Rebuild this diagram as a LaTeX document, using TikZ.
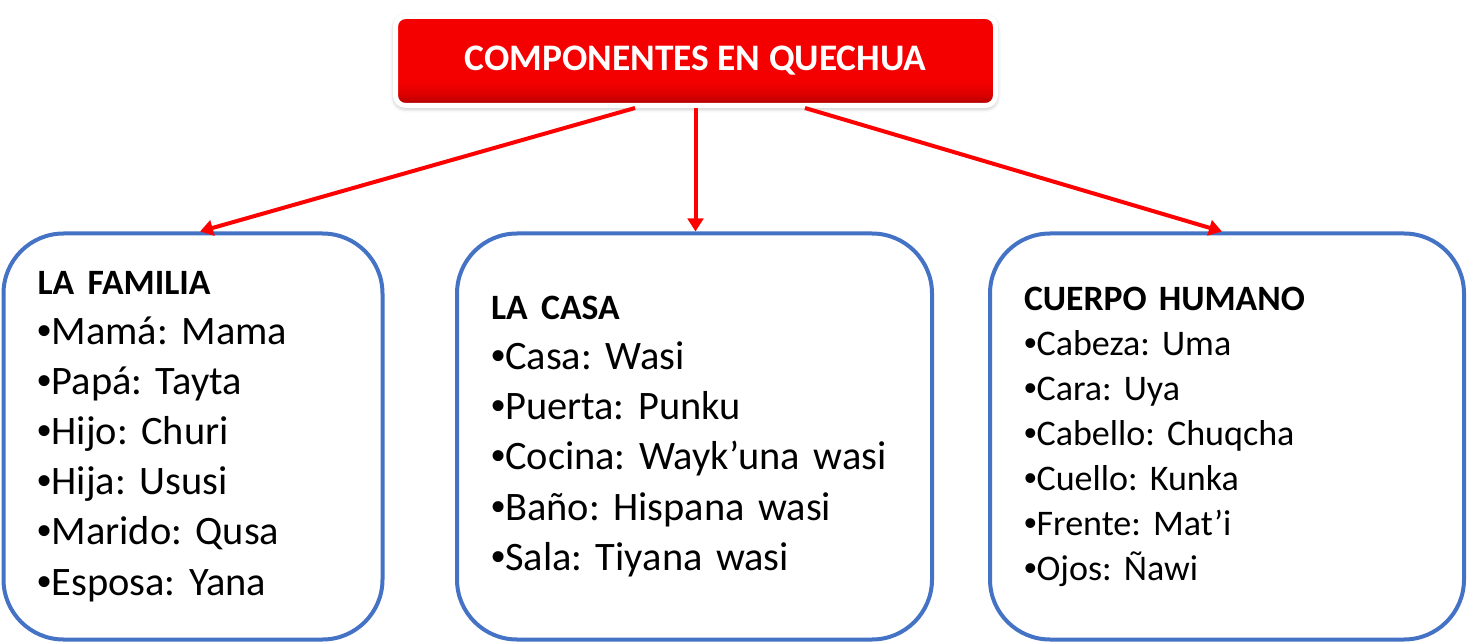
\documentclass[tikz,border=0pt]{standalone}
\usepackage{fontspec}
\setmainfont{Carlito}
\newfontfamily\vinetafont{Liberation Sans}
\usetikzlibrary{arrows.meta,shadows.blur}
\definecolor{azulborde}{HTML}{4472C4}
\definecolor{rojoflecha}{HTML}{FF0000}
\definecolor{rojoclaro}{HTML}{F40000}
\definecolor{rojomedio}{HTML}{DC0000}
\definecolor{rojooscuro}{HTML}{A80000}
\pgfdeclareverticalshading{rojoboton}{100bp}{color(0bp)=(rojooscuro); color(25bp)=(rojooscuro);
    color(31bp)=(rojomedio); color(38bp)=(rojoclaro); color(100bp)=(rojoclaro)}
\tikzset{
    encabezado/.style={
        draw=white, line width=0.1cm, rounded corners=0.2cm, shading=rojoboton,
        minimum width=12cm, minimum height=1.78cm,
        text=white, font=\bfseries\fontsize{21.3}{26}\selectfont,
        blur shadow={shadow xshift=0pt, shadow yshift=-1pt, shadow blur radius=3pt}
    },
    tema/.style={
        draw=azulborde, line width=0.08cm, rounded corners=1.2cm,
        minimum height=8.12cm, inner xsep=0.68cm, align=left
    },
    flecha/.style={draw=rojoflecha, line width=0.08cm, -{Triangle[length=0.26cm, width=0.31cm]}}
}
\newcommand{\vineta}{{\vinetafont •}}
\newcommand{\tituloTema}[1]{{\bfseries\fontsize{20.3}{28.5}\selectfont #1}}
\begin{document}
\frenchspacing
\begin{tikzpicture}
    \useasboundingbox (0,0) rectangle (29.36,-12.88);
    % titulo principal
    \node[encabezado] (comp) at (13.91,-1.22) {COMPONENTES EN QUECHUA};
    % los tres temas
    \node[tema, text width=6.22cm, font=\fontsize{23}{28.5}\selectfont] (familia) at (3.86,-8.73) {
        \tituloTema{LA FAMILIA}\\
        \vineta Mamá: Mama\\
        \vineta Papá: Tayta\\
        \vineta Hijo: Churi\\
        \vineta Hija: Ususi\\
        \vineta Marido: Qusa\\
        \vineta Esposa: Yana};
    \node[tema, text width=8.14cm, font=\fontsize{23}{28.5}\selectfont] (casa) at (13.89,-8.73) {
        \tituloTema{LA CASA}\\
        \vineta Casa: Wasi\\
        \vineta Puerta: Punku\\
        \vineta Cocina: Wayk’una wasi\\
        \vineta Baño: Hispana wasi\\
        \vineta Sala: Tiyana wasi};
    \node[tema, text width=8.12cm, font=\fontsize{20.5}{25.6}\selectfont] (cuerpo) at (24.54,-8.73) {
        {\bfseries\fontsize{20.3}{25.6}\selectfont CUERPO HUMANO}\\
        \vineta Cabeza: Uma\\
        \vineta Cara: Uya\\
        \vineta Cabello: Chuqcha\\
        \vineta Cuello: Kunka\\
        \vineta Frente: Mat’i\\
        \vineta Ojos: Ñawi};
    % flechas
    \draw[flecha] ([xshift=-1.21cm]comp.south) -- ([xshift=0.14cm]familia.north);
    \draw[flecha] (comp.south) -- (comp.south |- casa.north);
    \draw[flecha] ([xshift=2.19cm]comp.south) -- ([xshift=-0.1cm]cuerpo.north);
\end{tikzpicture}
\end{document}
